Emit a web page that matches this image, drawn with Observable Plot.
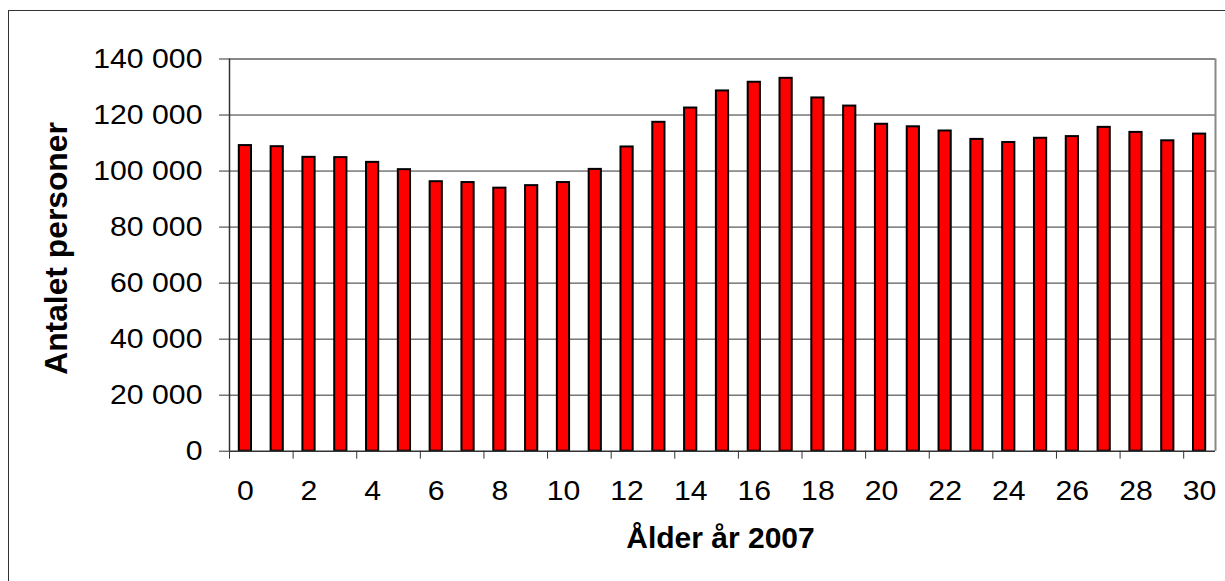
<!DOCTYPE html>
<html>
<head>
<meta charset="utf-8">
<script src="https://cdn.jsdelivr.net/npm/d3@7"></script>
<script src="https://cdn.jsdelivr.net/npm/@observablehq/plot@0.6"></script>
<style>
  html, body { margin: 0; padding: 0; background: #fff; overflow: hidden; }
  #wrap { position: relative; width: 1225px; height: 581px; }
  #border { position: absolute; left: 8px; top: 10px; width: 1400px; height: 800px; border-top: 1.5px solid #333; border-left: 1.5px solid #333; }
  #chart { position: absolute; left: 0; top: 0; }
</style>
</head>
<body>
<div id="wrap"><div id="border"></div><div id="chart"></div></div>
<script>
const ages = [0,1,2,3,4,5,6,7,8,9,10,11,12,13,14,15,16,17,18,19,20,21,22,23,24,25,26,27,28,29,30];
const persons = [109100,108700,104900,104800,103100,100500,96200,95900,93900,94800,95900,100600,108600,117400,122500,128600,131700,133100,126100,123200,116700,115800,114300,111300,110200,111700,112300,115600,113800,110800,113200];
const yTicks = [0,20000,40000,60000,80000,100000,120000,140000];
const xLabelTicks = [0,2,4,6,8,10,12,14,16,18,20,22,24,26,28,30];
const xTitle = "Ålder år 2007";
const yTitle = "Antalet personer";

const data = ages.map((a, i) => ({age: a, value: persons[i]}));
const boundaries = xLabelTicks.map(t => t - 0.5);
const fmt = v => d3.format(",")(v).replace(/,/g, " ");

const chart = Plot.plot({
  width: 1225,
  height: 581,
  marginLeft: 229,
  marginTop: 58.5,
  marginRight: 10,
  marginBottom: 130.3,
  style: {fontFamily: "'Liberation Sans', Arial, sans-serif", fontSize: "27px", color: "#000", background: "transparent", overflow: "visible"},
  x: {type: "linear", domain: [-0.5, 30.5]},
  y: {domain: [0, 140000]},
  marks: [
    Plot.ruleY(yTicks.filter(v => v > 0 && v < 140000), {stroke: "#333", strokeWidth: 1}),
    Plot.rectY(data, {x1: d => d.age - 0.5, x2: d => d.age + 0.5, y: "value", insetLeft: 9.8, insetRight: 9.8, fill: "#ff0000", stroke: "#000", strokeWidth: 2}),
    Plot.ruleY([140000], {stroke: "#888", strokeWidth: 2}),
    Plot.ruleX([30.5], {stroke: "#888", strokeWidth: 2}),
    Plot.ruleX([-0.5], {stroke: "#333", strokeWidth: 1.5}),
    Plot.ruleY([0], {stroke: "#333", strokeWidth: 1.5}),
    Plot.axisY({ticks: yTicks, tickSize: 10, tickPadding: 17, tickFormat: fmt, label: null, stroke: "#333"}),
    Plot.axisX({ticks: boundaries, tickSize: 8, tickFormat: () => "", label: null, stroke: "#333"}),
    Plot.axisX({ticks: xLabelTicks, tickSize: 0, tickPadding: 30, tickFormat: d => String(d), label: null}),
    Plot.text([xTitle], {frameAnchor: "bottom", lineAnchor: "bottom", dy: 97, dx: -2, fontWeight: "bold", fontSize: 30, fill: "#000"}),
    Plot.text([yTitle], {frameAnchor: "left", textAnchor: "middle", lineAnchor: "middle", rotate: -90, dx: -173, dy: -6.6, fontWeight: "bold", fontSize: 31.8, fill: "#000"})
  ]
});

// widen tick labels slightly (reference glyphs are a little wider than Liberation Sans)
d3.select(chart).selectAll("g[aria-label='y-axis tick label'] text, g[aria-label='x-axis tick label'] text").each(function() {
  const el = this;
  const t = el.getAttribute("transform");
  if (t) {
    el.setAttribute("transform", t + " scale(1.12,1)");
  } else {
    const x = el.getAttribute("x") || 0, y = el.getAttribute("y") || 0;
    el.removeAttribute("x"); el.removeAttribute("y");
    el.setAttribute("transform", `translate(${x},${y}) scale(1.12,1)`);
  }
});

document.getElementById("chart").appendChild(chart);
</script>
</body>
</html>
